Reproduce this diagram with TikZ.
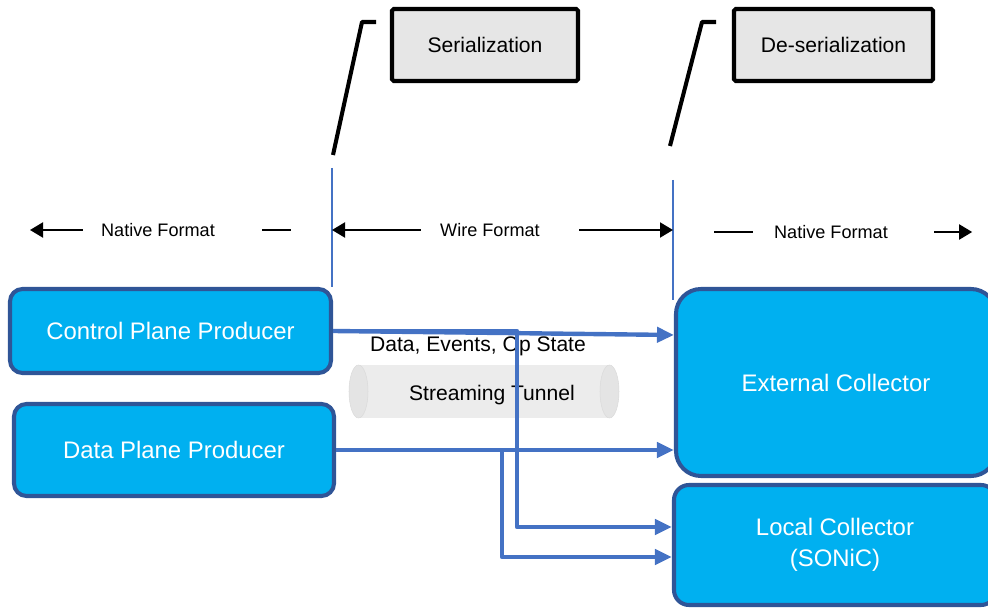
\documentclass[tikz,border=0pt]{standalone}
\usepackage{fontspec}
\setmainfont{Liberation Sans}
\usetikzlibrary{arrows.meta,positioning}
\definecolor{boxblue}{HTML}{00B0F0}
\definecolor{edgeblue}{HTML}{2F5597}
\definecolor{flowblue}{HTML}{4472C4}
\definecolor{stagegray}{HTML}{E6E6E6}
\definecolor{tunnelgray}{HTML}{ECECEC}
\definecolor{tunnelend}{HTML}{E4E4E4}

\begin{document}
\begin{tikzpicture}[
		fmtarrow/.style={-{Triangle[length=2.6mm,width=3mm]},line width=1.1pt,black},
		fmtdash/.style={line width=1.1pt,black},
		fmtlabel/.style={font=\fontsize{10.3}{12}\selectfont,inner sep=0pt},
		flow/.style={-{Triangle[length=3.4mm,width=3mm]},line width=2.5pt,flowblue,line join=round},
		border/.style={line width=0.85pt,flowblue},
		callout/.style={line width=2.3pt,black,line join=round},
		stagebox/.style={rectangle,draw=black,line width=2.3pt,fill=stagegray,rounded corners=1pt,
			font=\fontsize{12}{14}\selectfont},
		endpoint/.style={rectangle,draw=edgeblue,line width=2.3pt,fill=boxblue,text=white,
			align=center,font=\fontsize{13.6}{17.6}\selectfont},
		tunnelcap/.style={fill=tunnelend,draw=tunnelend!96!black,line width=0.3pt}]
		\useasboundingbox (0,0) rectangle (19.76,-12.16);
		\clip (0,0) rectangle (19.76,-12.16);

		% serialization stages
		\node[stagebox,minimum width=3.72cm,minimum height=1.44cm] (ser) at (9.70,-0.90) {Serialization};
		\node[stagebox,minimum width=3.98cm,minimum height=1.44cm] (deser) at (16.67,-0.90) {De-serialization};
		\coordinate (c1) at (6.66,-3.10);
		\coordinate (c2) at (13.40,-2.92);
		\draw[callout] (c1) -- (7.24,-0.44) -- (7.52,-0.44);
		\draw[callout] (c2) -- (14.04,-0.44) -- (14.32,-0.44);

		% format boundaries
		\coordinate (b1top) at (6.64,-3.36);
		\coordinate (b1bot) at (6.64,-5.74);
		\coordinate (b2top) at (13.46,-3.60);
		\coordinate (b2bot) at (13.46,-6.00);
		\draw[border] (b1top) -- (b1bot);
		\draw[border] (b2top) -- (b2bot);

		\node[fmtlabel] (nf1) at (3.16,-4.60) {Native Format};
		\node[fmtlabel] (wf) at (9.80,-4.60) {Wire Format};
		\node[fmtlabel] (nf2) at (16.62,-4.64) {Native Format};
		\draw[fmtarrow] ([xshift=-3.6mm]nf1.west) -- (0.60,-4.60);
		\draw[fmtdash] (5.24,-4.60) -- (5.82,-4.60);
		\draw[fmtarrow] ([xshift=-3.8mm]wf.west) -- (wf.west -| b1top);
		\draw[fmtarrow] ([xshift=7.8mm]wf.east) -- (wf.east -| b2top);
		\draw[fmtdash] (14.28,-4.64) -- (15.06,-4.64);
		\draw[fmtarrow] ([xshift=9.2mm]nf2.east) -- ([xshift=16.8mm]nf2.east);

		% producers and collectors
		\node[endpoint,rounded corners=0.25cm,minimum width=6.42cm,minimum height=1.68cm] (cpp) at (3.41,-6.62) {Control Plane Producer};
		\node[endpoint,rounded corners=0.25cm,minimum width=6.40cm,minimum height=1.84cm] (dpp) at (3.48,-9.00) {Data Plane Producer};
		\node[endpoint,rounded corners=0.5cm,minimum width=6.40cm,minimum height=3.74cm] (ext) at (16.72,-7.65) {External Collector};
		\node[endpoint,rounded corners=0.3cm,minimum width=6.44cm,minimum height=2.40cm] (local) at (16.70,-10.90) {Local Collector\\(SONiC)};

		% tunnel
		\fill[tunnelgray] (7.17,-7.30) rectangle (12.19,-8.36);
		\draw[tunnelcap] (7.17,-7.83) ellipse (0.19 and 0.53);
		\draw[tunnelcap] (12.19,-7.83) ellipse (0.19 and 0.53);
		\node[font=\fontsize{12}{14}\selectfont,inner sep=0pt] (tun) at (9.84,-7.90) {Streaming Tunnel};
		\node[font=\fontsize{12}{14}\selectfont,inner sep=0pt] (lbl) at (9.56,-6.92) {Data, Events, Op State};

		\draw[flow] (cpp.east) -- (ext.west |- 0,-6.70);
		\draw[flow] (cpp.east) -| (10.34,-10.54) -- (local.west |- 0,-10.54);
		\draw[flow] (dpp.east) -- (ext.west |- dpp.east);
		\draw[flow] (dpp.east) -| (10.04,-11.14) -- (local.west |- 0,-11.14);
	\end{tikzpicture}
\end{document}
